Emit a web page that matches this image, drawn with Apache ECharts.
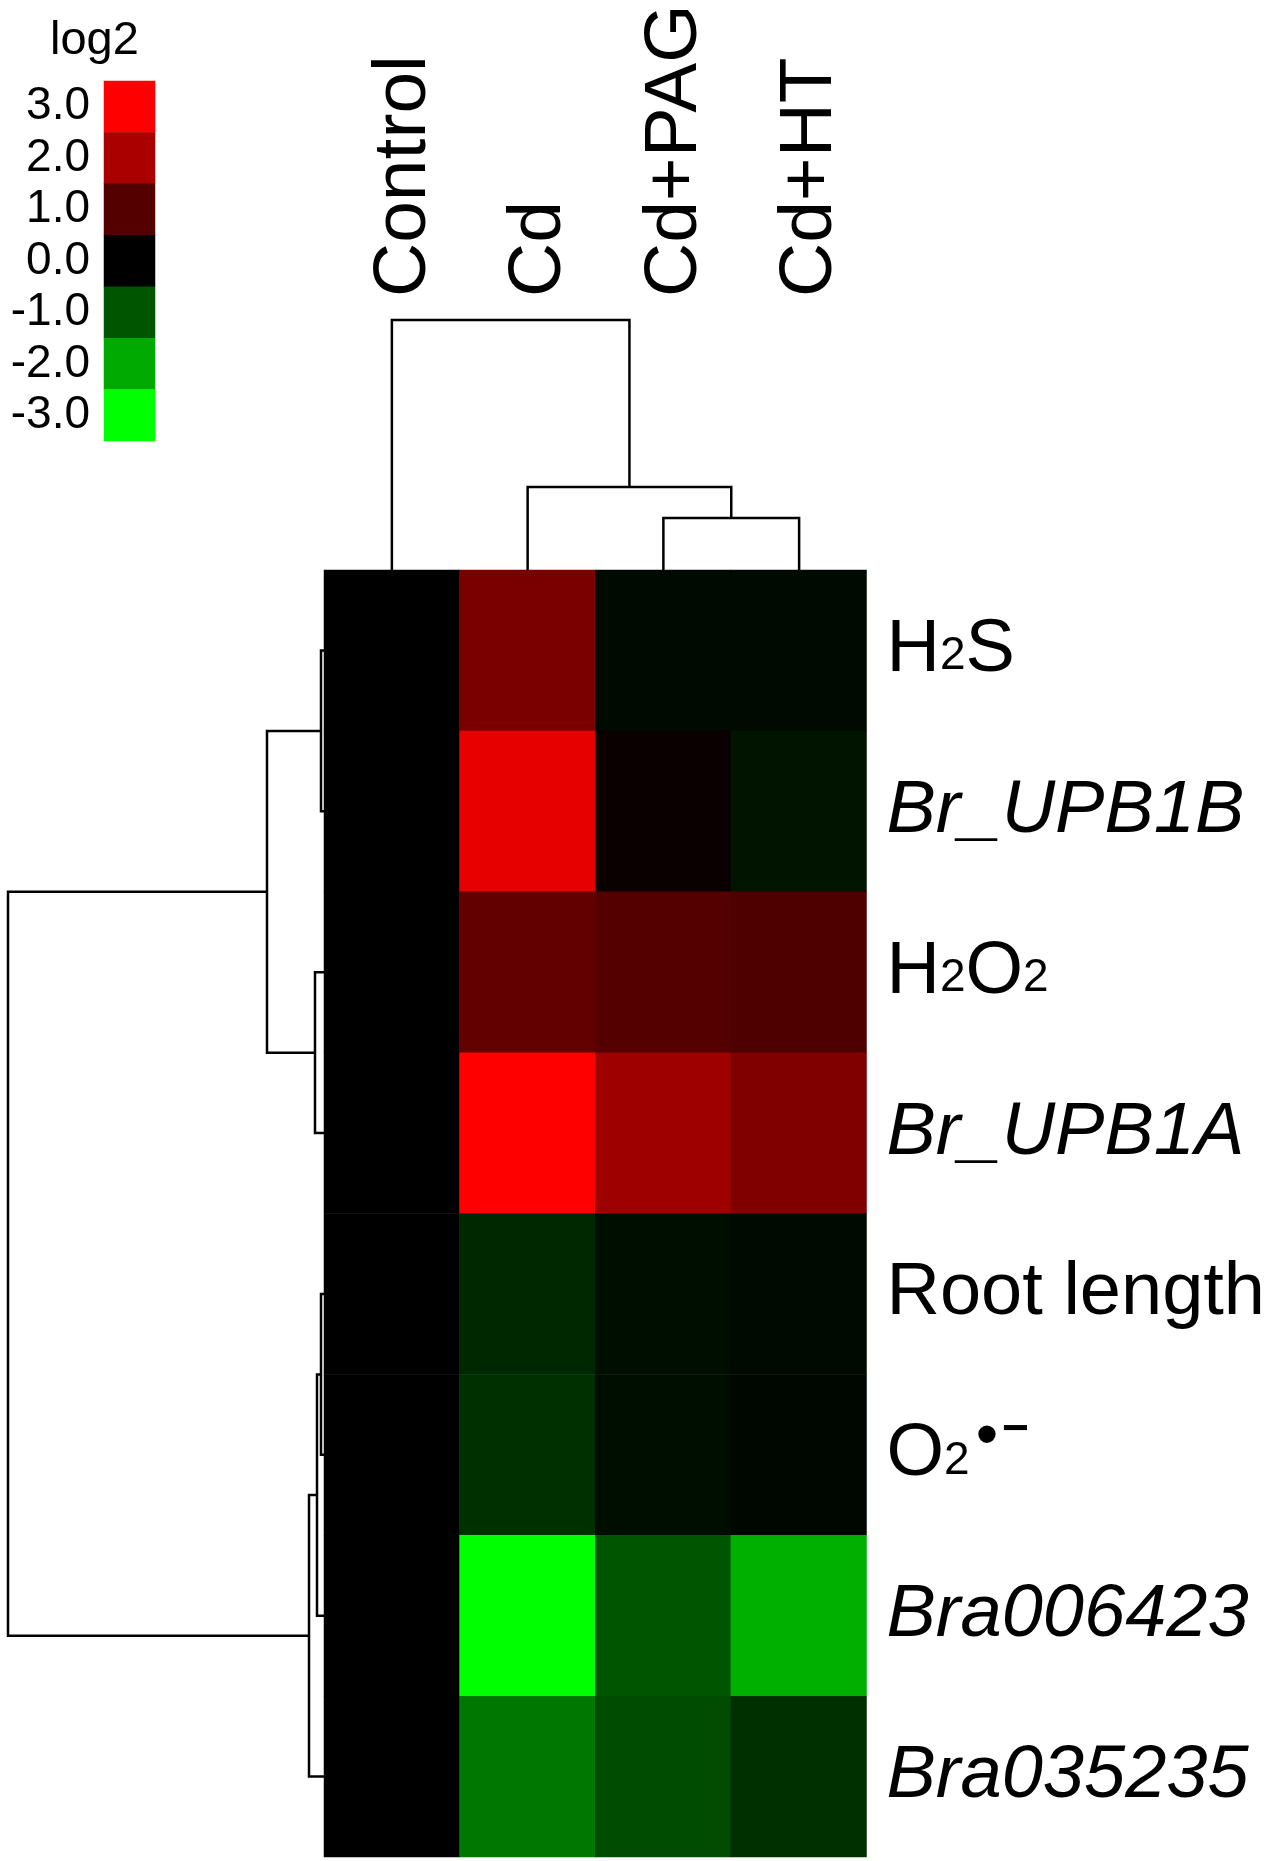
<!DOCTYPE html>
<html>
<head>
<meta charset="utf-8">
<script src="https://cdn.jsdelivr.net/npm/echarts@6/dist/echarts.min.js"></script>
<style>
    html, body { margin: 0; padding: 0; background: #fff; }
    #heatmap { width: 1268px; height: 1861px; }
</style>
</head>
<body>
<div id="heatmap"></div>
<script>
"use strict";

// columns (treatments) and rows (measured traits / genes), in dendrogram order
var colNames = ['Control', 'Cd', 'Cd+PAG', 'Cd+HT'];
var rowNames = ['H2S', 'Br_UPB1B', 'H2O2', 'Br_UPB1A', 'Root length', 'O2•−', 'Bra006423', 'Bra035235'];
var rowItalic = [false, true, false, true, false, false, true, true];

// log2 values, one array per column (top to bottom)
var control = [0, 0, 0, 0, 0, 0, 0, 0];
var cd      = [1.44, 2.70, 1.15, 3.00, -0.47, -0.56, -3.00, -1.41];
var cdPag   = [-0.12, 0.12, 1.00, 1.86, -0.16, -0.16, -1.00, -0.89];
var cdHt    = [-0.12, -0.24, 0.92, 1.50, -0.12, -0.07, -2.07, -0.56];

// colour key
var keyLabels = ['3.0', '2.0', '1.0', '0.0', '-1.0', '-2.0', '-3.0'];
var keyValues = [3, 2, 1, 0, -1, -2, -3];

// dendrograms as merges: [childA, childB, distance]; child index >= n is an earlier merge
var colMerges = [[2, 3, 52], [1, 4, 83], [0, 5, 250]];
var rowMerges = [[0, 1, 3], [2, 3, 9], [8, 9, 57], [4, 5, 3], [11, 6, 7], [12, 7, 15], [10, 13, 316]];

var FONT = 'Liberation Sans, Arial, sans-serif';

function buildLinks(merges, n) {
    var pos = [], hgt = [], links = [];
    for (var i = 0; i < n; i++) { pos.push(i + 0.5); hgt.push(0); }
    merges.forEach(function (m) {
        var a = m[0], b = m[1], h = m[2];
        links.push([pos[a], pos[b], hgt[a], hgt[b], h]);
        pos.push((pos[a] + pos[b]) / 2);
        hgt.push(h);
    });
    return links;
}

var columns = [control, cd, cdPag, cdHt];
var cells = [];
columns.forEach(function (col, c) {
    col.forEach(function (v, r) { cells.push([c, r, v]); });
});
var keyCells = keyValues.map(function (v, i) { return [0, i, v]; });

var colLinks = buildLinks(colMerges, colNames.length);
var rowLinks = buildLinks(rowMerges, rowNames.length);

function rowLabel(v, i) {
    if (rowItalic[i]) return '{i|' + v + '}';
    // the radical label gets a taller line so its superscripts can sit high
    if (v.indexOf('•') >= 0) return v.replace('2', '{z|2}').replace('•', '{p|•}').replace('−', '{m|−}');
    return v.replace(/2/g, '{s|2}');
}

function treeLine(swap) {
    return function (params, api) {
        var a = api.value(0), b = api.value(1), ha = api.value(2), hb = api.value(3), h = api.value(4);
        var pts = [[a, ha], [a, h], [b, h], [b, hb]].map(function (p) {
            return api.coord(swap ? [p[1], p[0]] : p);
        });
        return {
            type: 'polyline',
            shape: { points: pts },
            style: { stroke: '#000', lineWidth: 2.5, fill: 'none' }
        };
    };
}

var chart = echarts.init(document.getElementById('heatmap'));
var option = {
    backgroundColor: '#fff',
    animation: false,
    title: {
        text: 'log2',
        left: 45,
        top: 13,
        textStyle: { fontFamily: FONT, fontSize: 47, fontWeight: 'normal', color: '#000' }
    },
    visualMap: {
        show: false,
        type: 'continuous',
        seriesIndex: [0, 1],
        dimension: 2,
        min: -3,
        max: 3,
        inRange: { color: ['#00ff00', '#000000', '#ff0000'] }
    },
    grid: [
        { left: 324, top: 570, width: 543, height: 1287 },   // heatmap
        { left: 324, top: 320, width: 543, height: 250 },    // column tree
        { left: 8, top: 570, width: 316, height: 1287 },     // row tree
        { left: 104, top: 81, width: 51, height: 360 }       // colour key
    ],
    xAxis: [
        {
            type: 'category', gridIndex: 0, data: colNames, position: 'top',
            axisLine: { show: false }, axisTick: { show: false }, splitLine: { show: false },
            axisLabel: {
                rotate: -90, margin: 273, verticalAlign: 'top', lineHeight: 24,
                fontFamily: FONT, fontSize: 75, color: '#000'
            }
        },
        { type: 'value', gridIndex: 1, min: 0, max: colNames.length, show: false },
        { type: 'value', gridIndex: 2, min: 0, max: 316, inverse: true, show: false },
        { type: 'category', gridIndex: 3, data: [''], show: false }
    ],
    yAxis: [
        {
            type: 'category', gridIndex: 0, data: rowNames, inverse: true, position: 'right',
            axisLine: { show: false }, axisTick: { show: false }, splitLine: { show: false },
            axisLabel: {
                margin: 20, fontFamily: FONT, fontSize: 74, color: '#000',
                formatter: rowLabel,
                rich: {
                    i: { fontFamily: FONT, fontSize: 74, fontStyle: 'italic', color: '#000' },
                    s: { fontFamily: FONT, fontSize: 46, color: '#000', verticalAlign: 'bottom', padding: [0, 0, 8, 0] },
                    z: { fontFamily: FONT, fontSize: 46, color: '#000', verticalAlign: 'bottom', padding: [0, 0, 26, 0] },
                    p: { fontFamily: FONT, fontSize: 64, lineHeight: 110, color: '#000', verticalAlign: 'top', padding: [7, 0, 0, 6] },
                    m: { fontFamily: FONT, fontWeight: 'bold', fontSize: 46, color: '#000', verticalAlign: 'top', padding: [7, 0, 0, 4] }
                }
            }
        },
        { type: 'value', gridIndex: 1, min: 0, max: 250, show: false },
        { type: 'value', gridIndex: 2, min: 0, max: rowNames.length, inverse: true, show: false },
        {
            type: 'category', gridIndex: 3, data: keyLabels, inverse: true,
            axisLine: { show: false }, axisTick: { show: false }, splitLine: { show: false },
            axisLabel: { interval: 0, margin: 14, fontFamily: FONT, fontSize: 46, color: '#000' }
        }
    ],
    series: [
        {
            type: 'heatmap', xAxisIndex: 0, yAxisIndex: 0, data: cells,
            itemStyle: { borderWidth: 0 }, emphasis: { disabled: true }
        },
        {
            type: 'heatmap', xAxisIndex: 3, yAxisIndex: 3, data: keyCells,
            itemStyle: { borderWidth: 0 }, emphasis: { disabled: true }
        },
        {
            type: 'custom', xAxisIndex: 1, yAxisIndex: 1, data: colLinks, silent: true,
            renderItem: treeLine(false)
        },
        {
            type: 'custom', xAxisIndex: 2, yAxisIndex: 2, data: rowLinks, silent: true,
            renderItem: treeLine(true)
        }
    ]
};
chart.setOption(option);
</script>
</body>
</html>
